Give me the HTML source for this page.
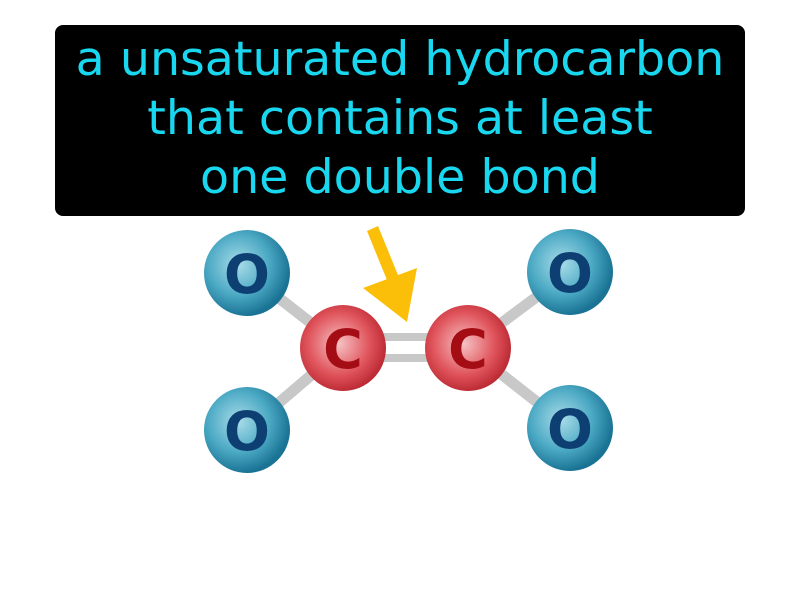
<!DOCTYPE html>
<html><head><meta charset="utf-8"><style>
html,body{margin:0;padding:0;background:#fff;}
#wrap{position:relative;width:800px;height:600px;overflow:hidden;background:#fff;}
#box{position:absolute;left:55px;top:25px;width:690px;height:191px;background:#000;border-radius:8px;}
#txt{position:absolute;left:55px;top:30px;width:690px;text-align:center;color:#1ad7f0;font-family:"DejaVu Sans","Liberation Sans",sans-serif;font-size:47.5px;line-height:59px;}
svg{position:absolute;left:0;top:0;}
</style></head><body>
<div id="wrap">
<div id="box"></div>
<div id="txt">a unsaturated hydrocarbon<br>that contains at least<br>one double bond</div>
<svg width="800" height="600">
<defs>
<radialGradient id="gO" cx="40%" cy="40%" r="60%"><stop offset="0" stop-color="#a9dce8"/><stop offset="0.6" stop-color="#4ba9c4"/><stop offset="1" stop-color="#1a7394"/></radialGradient>
<radialGradient id="gC" cx="45%" cy="45%" r="60%"><stop offset="0" stop-color="#f6c2c4"/><stop offset="0.6" stop-color="#e0545c"/><stop offset="1" stop-color="#b5222b"/></radialGradient>
</defs>
<g stroke="#c8c8c8" stroke-width="11">
<line x1="247" y1="273" x2="343" y2="348"/>
<line x1="247" y1="430" x2="343" y2="348"/>
<line x1="570" y1="272" x2="468" y2="348"/>
<line x1="570" y1="428" x2="468" y2="348"/>
<line x1="343" y1="337" x2="468" y2="337" stroke-width="8"/>
<line x1="343" y1="358" x2="468" y2="358" stroke-width="8"/>
</g>
<g font-family="DejaVu Sans, Liberation Sans, sans-serif" font-weight="bold" font-size="54" text-anchor="middle">
<g><circle cx="247" cy="273" r="43" fill="url(#gO)"/><text x="247" y="293" fill="#0d3f73">O</text></g>
<g><circle cx="247" cy="430" r="43" fill="url(#gO)"/><text x="247" y="450" fill="#0d3f73">O</text></g>
<g><circle cx="570" cy="272" r="43" fill="url(#gO)"/><text x="570" y="292" fill="#0d3f73">O</text></g>
<g><circle cx="570" cy="428" r="43" fill="url(#gO)"/><text x="570" y="448" fill="#0d3f73">O</text></g>
<g><circle cx="343" cy="348" r="43" fill="url(#gC)"/><text x="343" y="368" fill="#a50d14">C</text></g>
<g><circle cx="468" cy="348" r="43" fill="url(#gC)"/><text x="468" y="368" fill="#a50d14">C</text></g>
</g>
<g fill="#fbbf0a" stroke="none">
<polygon points="367,231 378,226 400,280 389,285"/>
<polygon points="363,288 417,268 407,322"/>
</g>
</svg>
</div>
</body></html>
